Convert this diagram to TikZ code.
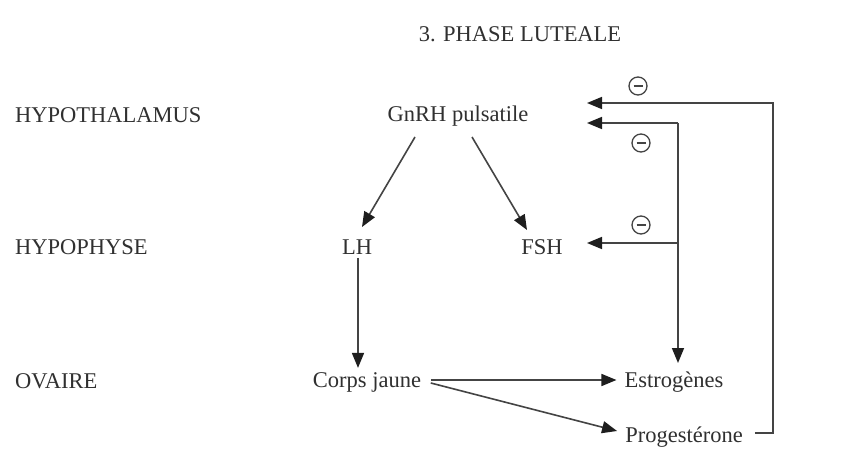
\documentclass[tikz,border=0pt]{standalone}
\usepackage{fontspec}
\setmainfont{Liberation Serif}
\usetikzlibrary{arrows.meta}
\definecolor{txt}{HTML}{303030}
\definecolor{ln}{HTML}{444444}
\definecolor{tip}{HTML}{1E1E1E}
\begin{document}
\begin{tikzpicture}[x=1pt,y=-1pt,
  lbl/.style={font=\fontsize{22.5}{27}\selectfont, text=txt, inner sep=0pt, anchor=base},
  con/.style={draw=ln, line width=1.6pt, -{Triangle[length=15pt,width=12pt,color=tip]}},
  neg/.style={circle, draw=ln, line width=1.3pt, minimum size=18pt, inner sep=0pt,
    path picture={\draw[ln, line width=1.5pt] ([xshift=-4.5pt]path picture bounding box.center) -- ([xshift=4.5pt]path picture bounding box.center);}}]
\useasboundingbox[fill=white] (0,0) rectangle (844,457);
% titles and levels
\node[lbl] (title) at (520,42) {3. PHASE LUTEALE};
\node[lbl, anchor=base west] (hypo) at (15,123) {HYPOTHALAMUS};
\node[lbl, anchor=base west] (hyph) at (15,255) {HYPOPHYSE};
\node[lbl, anchor=base west] (ova) at (15,388) {OVAIRE};
% hormones
\node[lbl] (gnrh) at (458,122) {GnRH pulsatile};
\node[lbl] (lh) at (357,255) {LH};
\node[lbl] (fsh) at (542,255) {FSH};
\node[lbl] (corps) at (367,387) {Corps jaune};
\node[lbl] (estro) at (674,387) {Estrogènes};
\node[lbl] (proges) at (684,442) {Progestérone};
% feedback signs
\node[neg] (n1) at (638,86) {};
\node[neg] (n2) at (641,143) {};
\node[neg] (n3) at (641,225) {};
% corners and ends of the feedback paths
\coordinate (t1) at (587,103);
\coordinate (t2) at (587,123);
\coordinate (t3) at (587,243);
\coordinate (inner) at (678,123);
\coordinate (innerfsh) at (678,243);
\coordinate (outer) at (773,433);
% connectors
\draw[con] ([xshift=-43pt,yshift=-15pt]gnrh.base) -- ([xshift=5pt,yshift=28pt]lh.base);
\draw[con] ([xshift=14pt,yshift=-15pt]gnrh.base) -- ([xshift=-15pt,yshift=25pt]fsh.base);
\draw[con] ([xshift=1pt,yshift=-3pt]lh.base) -- ([xshift=1pt,yshift=4pt]lh.base |- corps.north);
\draw[con] ([xshift=9.5pt,yshift=7pt]corps.base east) -- ([xshift=-8pt,yshift=7pt]estro.base west);
\draw[con] ([xshift=9.5pt,yshift=4pt]corps.base east) -- ([xshift=-8pt,yshift=11pt]proges.base west);
\draw[con] (inner) -- (t2);
\draw[con] (inner) -- ([yshift=24pt]inner |- estro.base);
\draw[con] (innerfsh) -- (t3);
\draw[con] ([xshift=12pt,yshift=9pt]proges.base east) -- (outer) |- (t1);
\end{tikzpicture}
\end{document}
